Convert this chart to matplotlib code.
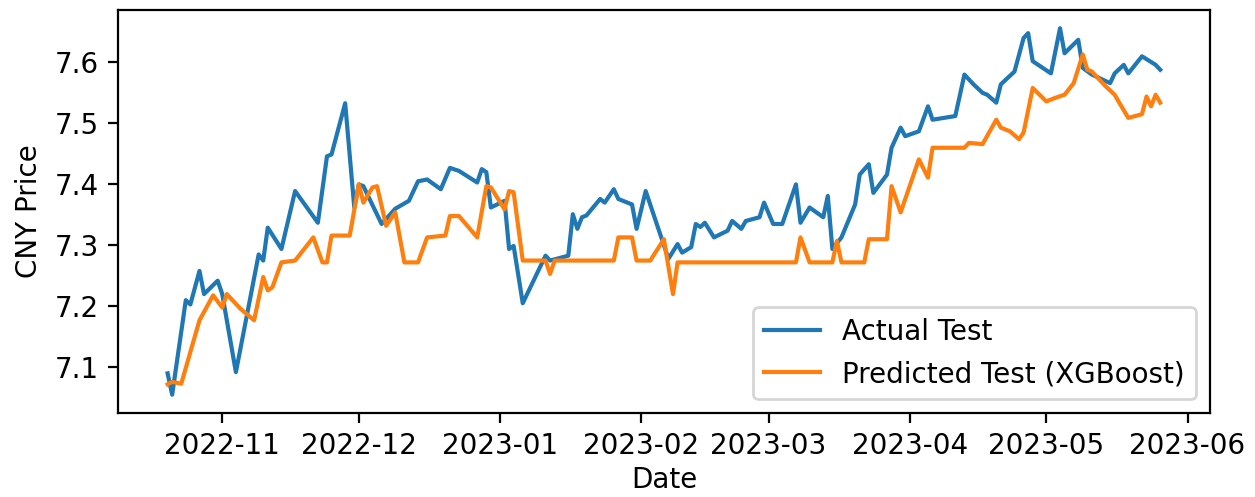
import numpy as np
import pandas as pd
import matplotlib
matplotlib.use('Agg')
import matplotlib.pyplot as plt

# Actual test series
actual_dates = [
    '2022-10-20', '2022-10-21', '2022-10-24', '2022-10-25', '2022-10-27', '2022-10-28',
    '2022-10-31', '2022-11-01', '2022-11-04', '2022-11-09', '2022-11-10', '2022-11-11',
    '2022-11-14', '2022-11-17', '2022-11-22', '2022-11-24', '2022-11-25', '2022-11-28',
    '2022-11-30', '2022-12-01', '2022-12-02', '2022-12-06', '2022-12-09', '2022-12-12',
    '2022-12-14', '2022-12-16', '2022-12-19', '2022-12-21', '2022-12-23', '2022-12-27',
    '2022-12-28', '2022-12-29', '2022-12-30', '2023-01-02', '2023-01-03', '2023-01-04',
    '2023-01-06', '2023-01-11', '2023-01-12', '2023-01-16', '2023-01-17', '2023-01-18',
    '2023-01-19', '2023-01-20', '2023-01-23', '2023-01-24', '2023-01-26', '2023-01-27',
    '2023-01-30', '2023-01-31', '2023-02-02', '2023-02-07', '2023-02-09', '2023-02-10',
    '2023-02-12', '2023-02-13', '2023-02-14', '2023-02-15', '2023-02-17', '2023-02-20',
    '2023-02-21', '2023-02-23', '2023-02-24', '2023-02-27', '2023-02-28', '2023-03-02',
    '2023-03-04', '2023-03-07', '2023-03-08', '2023-03-10', '2023-03-13', '2023-03-14',
    '2023-03-15', '2023-03-17', '2023-03-20', '2023-03-21', '2023-03-23', '2023-03-24',
    '2023-03-27', '2023-03-28', '2023-03-30', '2023-03-31', '2023-04-03', '2023-04-05',
    '2023-04-06', '2023-04-11', '2023-04-13', '2023-04-15', '2023-04-17', '2023-04-18',
    '2023-04-20', '2023-04-21', '2023-04-24', '2023-04-26', '2023-04-27', '2023-04-28',
    '2023-05-02', '2023-05-04', '2023-05-05', '2023-05-08', '2023-05-09', '2023-05-11',
    '2023-05-15', '2023-05-16', '2023-05-18', '2023-05-19', '2023-05-22', '2023-05-25',
    '2023-05-26',
]
actual_vals = [
    7.090, 7.055, 7.210, 7.203, 7.258, 7.220,
    7.242, 7.220, 7.092, 7.285, 7.275, 7.329,
    7.294, 7.389, 7.337, 7.446, 7.449, 7.533,
    7.362, 7.400, 7.397, 7.335, 7.360, 7.373,
    7.405, 7.408, 7.392, 7.427, 7.422, 7.403,
    7.425, 7.420, 7.362, 7.373, 7.294, 7.299,
    7.205, 7.283, 7.275, 7.283, 7.351, 7.327,
    7.346, 7.349, 7.376, 7.370, 7.392, 7.376,
    7.367, 7.327, 7.389, 7.278, 7.302, 7.288,
    7.297, 7.335, 7.330, 7.337, 7.313, 7.324,
    7.340, 7.327, 7.340, 7.346, 7.370, 7.335,
    7.335, 7.400, 7.337, 7.362, 7.346, 7.381,
    7.294, 7.313, 7.367, 7.416, 7.433, 7.386,
    7.416, 7.460, 7.493, 7.479, 7.487, 7.528,
    7.506, 7.512, 7.580, 7.564, 7.550, 7.547,
    7.534, 7.564, 7.585, 7.640, 7.648, 7.602,
    7.582, 7.656, 7.615, 7.637, 7.591, 7.580,
    7.566, 7.582, 7.596, 7.582, 7.610, 7.596,
    7.588,
]

# Predicted test series (XGBoost)
pred_dates = [
    '2022-10-20', '2022-10-21', '2022-10-23', '2022-10-27', '2022-10-30', '2022-11-01',
    '2022-11-02', '2022-11-05', '2022-11-08', '2022-11-10', '2022-11-11', '2022-11-12',
    '2022-11-14', '2022-11-17', '2022-11-21', '2022-11-23', '2022-11-24', '2022-11-25',
    '2022-11-29', '2022-12-01', '2022-12-02', '2022-12-04', '2022-12-05', '2022-12-07',
    '2022-12-09', '2022-12-11', '2022-12-14', '2022-12-16', '2022-12-20', '2022-12-21',
    '2022-12-23', '2022-12-27', '2022-12-29', '2022-12-30', '2023-01-02', '2023-01-03',
    '2023-01-04', '2023-01-06', '2023-01-11', '2023-01-12', '2023-01-13', '2023-01-26',
    '2023-01-27', '2023-01-30', '2023-01-31', '2023-02-03', '2023-02-06', '2023-02-08',
    '2023-02-09', '2023-03-07', '2023-03-08', '2023-03-10', '2023-03-15', '2023-03-16',
    '2023-03-17', '2023-03-22', '2023-03-23', '2023-03-27', '2023-03-28', '2023-03-30',
    '2023-04-03', '2023-04-05', '2023-04-06', '2023-04-13', '2023-04-14', '2023-04-17',
    '2023-04-20', '2023-04-21', '2023-04-23', '2023-04-25', '2023-04-26', '2023-04-28',
    '2023-05-01', '2023-05-03', '2023-05-05', '2023-05-07', '2023-05-09', '2023-05-10',
    '2023-05-11', '2023-05-14', '2023-05-16', '2023-05-17', '2023-05-19', '2023-05-22',
    '2023-05-23', '2023-05-24', '2023-05-25', '2023-05-26',
]
pred_vals = [
    7.072, 7.076, 7.073, 7.177, 7.218, 7.198,
    7.220, 7.196, 7.177, 7.248, 7.226, 7.231,
    7.272, 7.275, 7.313, 7.272, 7.272, 7.316,
    7.316, 7.400, 7.370, 7.395, 7.397, 7.332,
    7.354, 7.272, 7.272, 7.313, 7.316, 7.348,
    7.348, 7.313, 7.397, 7.395, 7.359, 7.389,
    7.387, 7.275, 7.275, 7.253, 7.275, 7.275,
    7.313, 7.313, 7.275, 7.275, 7.310, 7.220,
    7.272, 7.272, 7.313, 7.272, 7.272, 7.307,
    7.272, 7.272, 7.310, 7.310, 7.397, 7.354,
    7.441, 7.411, 7.460, 7.460, 7.468, 7.466,
    7.506, 7.493, 7.487, 7.474, 7.485, 7.558,
    7.536, 7.542, 7.547, 7.566, 7.613, 7.588,
    7.585, 7.561, 7.547, 7.534, 7.509, 7.515,
    7.544, 7.528, 7.547, 7.534,
]

actual = pd.Series(actual_vals, index=pd.to_datetime(actual_dates))
pred = pd.Series(pred_vals, index=pd.to_datetime(pred_dates))

fig, ax = plt.subplots(figsize=(6.275, 2.485), dpi=200)
fig.subplots_adjust(left=0.094, right=0.964, bottom=0.169, top=0.980)

ax.plot(actual.index, actual.values, label='Actual Test')
ax.plot(pred.index, pred.values, label='Predicted Test (XGBoost)')
ax.set_xlabel('Date', labelpad=2)
ax.set_ylabel('CNY Price')
ax.legend(loc='lower right')

plt.savefig('out.png', dpi=200)
